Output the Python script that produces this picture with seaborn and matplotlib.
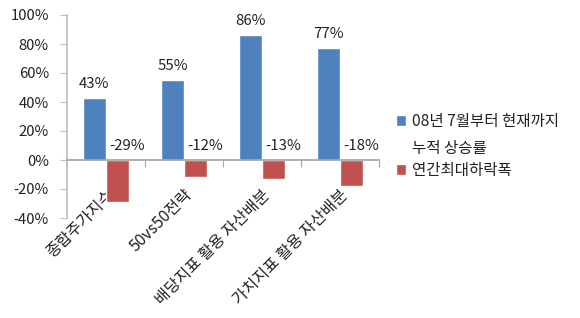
import matplotlib
matplotlib.use("Agg")
import matplotlib.pyplot as plt
import seaborn as sns
import pandas as pd
from matplotlib.patches import Patch

categories = ["종합주가지수", "50vs50전략", "배당지표 활용 자산배분", "가치지표 활용 자산배분"]
cum_return = [43, 55, 86, 77]
max_drawdown = [-29, -12, -13, -18]
series_names = ["08년 7월부터 현재까지\n누적 상승률", "연간최대하락폭"]
yticks = [-40, -20, 0, 20, 40, 60, 80, 100]
colors = ["#4F81BD", "#C0504D"]

sns.set_theme(style="white")
plt.rcParams['font.family'] = ['Noto Sans CJK KR', 'DejaVu Sans']

df = pd.DataFrame({
    "category": categories * 2,
    "value": cum_return + max_drawdown,
    "series": [series_names[0]] * 4 + [series_names[1]] * 4,
})

fig = plt.figure(figsize=(5.8, 3.18), dpi=100)
ax = fig.add_axes([67 / 580, 1 - 218 / 318, (379 - 67) / 580, (218 - 15) / 318])

sns.barplot(data=df, x="category", y="value", hue="series", palette=colors,
            width=0.59, ax=ax, legend=False, saturation=1, gap=0)

ax.set_xlim(-0.5, 3.5)
ax.set_ylim(-40, 100)
ax.set_yticks(yticks)
ax.set_yticklabels([f"{v}%" for v in yticks], fontsize=10.7, color="#222222")
ax.set_xlabel("")
ax.set_ylabel("")

for s in ["top", "right"]:
    ax.spines[s].set_visible(False)
ax.spines["left"].set_color("#BFBFBF")
ax.spines["bottom"].set_color("#A6A6A6")
ax.spines["bottom"].set_position(("data", 0))
ax.tick_params(axis="y", left=True, length=5, width=0.8, color="#BFBFBF", pad=8)

ax.set_xticks([-0.5, 0.5, 1.5, 2.5, 3.5])
ax.set_xticklabels([])
ax.set_xticks([0, 1, 2, 3], minor=True)
ax.set_xticklabels(categories, minor=True, rotation=45, ha="right",
                   rotation_mode="anchor", fontsize=11.5, color="#222222")
ax.tick_params(axis="x", which="major", bottom=True, length=5, width=0.8,
               color="#A6A6A6", direction="out")
ax.tick_params(axis="x", which="minor", bottom=False, length=0, pad=19)
for lbl in ax.get_xticklabels(minor=True):
    lbl.set_verticalalignment("top")

# data labels
bars_blue = ax.containers[0]
bars_red = ax.containers[1]
for b, v in zip(bars_blue, cum_return):
    ax.annotate(f"{v}%", (b.get_x() + b.get_width() / 2, v), xytext=(0, 5),
                textcoords="offset points", ha="center", va="bottom", fontsize=10.8,
                color="#222222")
for b, v in zip(bars_red, max_drawdown):
    ax.annotate(f"{v}%", (b.get_x() + b.get_width() / 2, 0), xytext=(7, 5),
                textcoords="offset points", ha="center", va="bottom", fontsize=10.8,
                color="#222222")

handles = [Patch(facecolor=colors[0]), Patch(facecolor=colors[1])]
leg = fig.legend(handles, ["08년 7월부터 현재까지", "연간최대하락폭"],
                 loc="upper left", bbox_to_anchor=(396 / 580, 1 - 113 / 318),
                 frameon=False, fontsize=11.2, handlelength=0.65, handleheight=0.65,
                 handletextpad=0.35, labelspacing=2.05, borderaxespad=0, borderpad=0)
for t in leg.get_texts():
    t.set_color("#222222")
fig.text(412 / 580, 1 - 148 / 318, "누적 상승률", fontsize=11.2, color="#222222",
         ha="left", va="center")

fig.savefig("out.png", dpi=100)
